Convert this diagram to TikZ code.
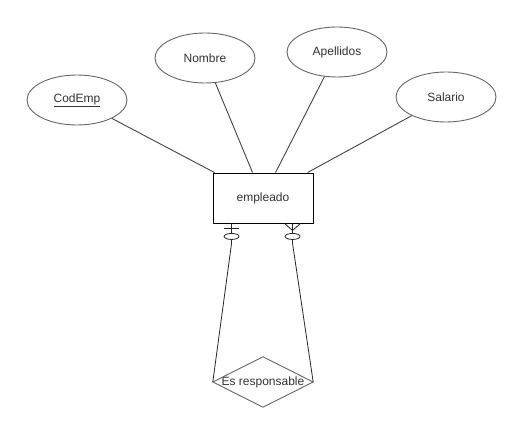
\documentclass[tikz,border=0pt]{standalone}
\usepackage{fontspec}
\setmainfont{Liberation Sans}
\usetikzlibrary{shapes.geometric,calc}
\definecolor{txt}{HTML}{333333}
\definecolor{edge}{HTML}{666666}
\definecolor{lnk}{HTML}{444444}
\begin{document}
\begin{tikzpicture}[x=1pt,y=-1pt,
  attr/.style={ellipse,draw=edge,line width=0.9pt,minimum width=100pt,minimum height=50pt,inner sep=0pt,font=\fontsize{12}{14}\selectfont,text=txt},
  ent/.style={rectangle,draw=black,line width=0.9pt,minimum width=100pt,minimum height=50pt,inner sep=0pt,font=\fontsize{12}{14}\selectfont,text=txt},
  lnkline/.style={draw=lnk,line width=0.9pt},
  relline/.style={draw=black!85,line width=0.8pt},
  mark/.style={}]
\useasboundingbox (0,0) rectangle (523,433);
\fill[white] (0,0) rectangle (523,433);
\node[attr] (cod) at (77,100) {\underline{CodEmp}};
\node[attr] (nom) at (205,58) {Nombre};
\node[attr] (ape) at (337,52) {Apellidos};
\node[attr] (sal) at (446,97) {Salario};
\node[ent] (emp) at (263,198) {empleado};
\coordinate (t1) at ($(emp.north west)+(2,0)$);
\coordinate (t2) at ($(emp.north west)+(40,0)$);
\coordinate (t3) at ($(emp.north west)+(63,0)$);
\coordinate (t4) at ($(emp.north west)+(95,0)$);
\draw[lnkline] (cod) -- (t1);
\draw[lnkline] (nom) -- (t2);
\draw[lnkline] (ape) -- (t3);
\draw[lnkline] (sal) -- (t4);
\node[minimum width=100pt,minimum height=50pt,inner sep=0pt,font=\fontsize{12}{14}\selectfont,text=txt] (rel) at (263,382) {Es responsable};
\draw[edge,line width=0.9pt] (rel.north) -- (rel.east) -- (rel.south) -- (rel.west) -- cycle;
\coordinate (b1) at ($(emp.south west)+(19,0)$);
\coordinate (b2) at ($(emp.south west)+(80,0)$);
\draw[relline] (b1) -- ++(0,20) -- (rel.west);
\draw[relline] (b2) -- ++(0,20) -- (rel.east);
% zero-to-one marker
\draw[relline] ($(b1)+(-7.5,5)$) -- ($(b1)+(7.5,5)$);
\draw[relline,fill=white] ($(b1)+(0,13)$) ellipse [x radius=7.5,y radius=3];
% zero-to-many marker
\draw[relline] ($(b2)+(-8,0)$) -- ($(b2)+(0,7)$) -- ($(b2)+(8,0)$);
\draw[relline,fill=white] ($(b2)+(0,13)$) ellipse [x radius=7.5,y radius=3];
\end{tikzpicture}
\end{document}
